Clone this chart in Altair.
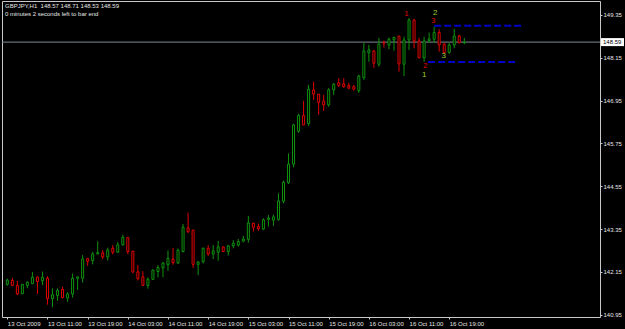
import altair as alt
import pandas as pd

# ---------------- data ----------------
symbol_line = "GBPJPY,H1\u00a0 148.57 148.71 148.53 148.59"
timer_line = "0 minutes 2 seconds left to bar end"

opens = [141.80,141.91,141.77,141.54,141.77,141.82,142.00,141.90,141.97,141.40,
         141.49,141.66,141.42,141.53,141.97,141.97,142.52,142.47,142.65,142.68,
         142.57,142.81,142.70,142.91,143.11,142.73,142.15,142.01,141.77,141.94,
         142.16,142.26,142.35,142.51,142.40,142.72,143.38,143.32,142.36,142.43,
         142.81,142.65,142.70,142.85,142.72,142.88,142.90,143.01,143.06,143.51,
         143.42,143.35,143.62,143.60,143.62,144.13,144.65,145.17,146.09,146.53,
         146.31,147.25,147.13,146.94,146.83,147.25,147.45,147.42,147.37,147.34,
         147.23,147.59,148.29,148.34,147.97,148.58,148.51,148.65,148.76,147.97,
         148.65,149.21,148.62,148.15,148.63,148.67,148.86,148.53,148.30,148.51,
         148.76,148.57]
highs = [141.96,141.98,141.90,141.81,141.88,142.15,142.02,142.16,142.03,141.69,
         141.69,141.73,141.58,142.10,142.02,142.62,142.54,142.71,143.01,142.76,
         142.83,142.90,142.99,143.19,143.13,142.74,142.34,142.17,142.00,142.22,
         142.34,142.42,142.75,142.82,142.80,143.49,143.81,143.32,142.44,142.83,
         142.90,142.90,143.02,142.86,142.90,143.04,143.07,143.16,143.72,143.53,
         143.50,143.65,143.74,143.75,144.35,144.71,145.47,146.30,146.58,146.94,
         147.39,147.48,147.13,147.11,147.30,147.44,147.58,147.58,147.45,147.39,
         147.67,148.57,148.51,148.37,148.71,148.63,148.72,148.74,148.76,148.74,
         149.26,149.24,148.71,148.74,148.86,149.02,148.95,148.57,148.56,148.96,
         148.79,148.71]
lows = [141.76,141.76,141.50,141.53,141.69,141.81,141.53,141.78,141.23,141.16,
        141.34,141.41,141.31,141.43,141.64,141.85,142.32,142.36,142.64,142.51,
        142.47,142.64,142.68,142.88,142.65,142.11,141.91,141.76,141.68,141.92,
        141.99,142.00,142.18,142.35,142.37,142.70,143.25,142.26,142.06,142.39,
        142.60,142.51,142.46,142.71,142.61,142.81,142.86,142.98,142.97,143.28,
        143.30,143.32,143.42,143.44,143.58,144.07,144.61,145.08,146.05,146.26,
        146.24,146.97,146.55,146.66,146.78,147.11,147.34,147.31,147.27,147.23,
        147.17,147.53,148.04,147.87,147.90,148.44,148.39,148.35,147.76,147.64,
        148.37,148.42,148.14,148.04,148.57,148.57,148.32,148.26,148.26,148.42,
        148.56,148.53]
closes = [141.92,141.77,141.53,141.80,141.86,142.00,141.88,142.00,141.40,141.51,
          141.63,141.43,141.53,141.97,142.01,142.51,142.45,142.65,142.69,142.57,
          142.76,142.70,142.91,143.12,142.72,142.15,141.96,141.77,141.94,142.20,
          142.27,142.40,142.53,142.41,142.76,143.40,143.27,142.36,142.43,142.81,
          142.65,142.74,142.85,142.72,142.88,142.95,143.00,143.07,143.52,143.40,
          143.36,143.61,143.66,143.69,144.14,144.66,145.17,146.27,146.53,146.27,
          147.27,147.13,146.90,146.83,147.25,147.41,147.37,147.34,147.30,147.27,
          147.64,148.34,148.37,148.00,148.53,148.56,148.67,148.72,147.98,148.65,
          149.21,148.62,148.15,148.62,148.68,148.86,148.51,148.29,148.51,148.76,
          148.57,148.59]

tick_bars = [0, 8, 16, 24, 32, 40, 48, 56, 64, 72, 80, 88]
tick_labels = ["13 Oct 2009", "13 Oct 11:00", "13 Oct 19:00", "14 Oct 03:00",
               "14 Oct 11:00", "14 Oct 19:00", "15 Oct 03:00", "15 Oct 11:00",
               "15 Oct 19:00", "16 Oct 03:00", "16 Oct 11:00", "16 Oct 19:00"]
price_ticks = [140.95, 141.55, 142.15, 142.75, 143.35, 143.95, 144.55, 145.15,
               145.75, 146.35, 146.95, 147.55, 148.15, 148.75, 149.35]
current_price = 148.59

level_prices = [149.05, 148.03]
level_start = [85.0, 83.8]
level_end = [102.6, 101.2]

marker_text = ["1", "2", "3", "2", "1", "3"]
marker_bar = [79.5, 85.2, 84.8, 83.2, 83.0, 86.9]
marker_price = [149.38, 149.41, 149.18, 147.93, 147.68, 148.20]
marker_kind = ["top", "bottom", "top", "top", "bottom", "bottom"]

# ---------------- styling ----------------
FONT = "Liberation Sans"
GREEN = "#0e920e"
RED = "#e00000"
TEXT = "#e6e6e6"

bars = pd.DataFrame({
    "i": list(range(len(opens))),
    "open": opens, "high": highs, "low": lows, "close": closes,
})
bars["dir"] = ["up" if c >= o else "down" for o, c in zip(opens, closes)]

levels = pd.DataFrame({"p": level_prices, "s": level_start, "e": level_end})
markers = pd.DataFrame({"t": marker_text, "i": marker_bar, "p": marker_price, "k": marker_kind})
cur = pd.DataFrame({"p": [current_price], "lab": [f"{current_price:.2f}"]})
info = pd.DataFrame({"t": [symbol_line]})
info2 = pd.DataFrame({"t": [timer_line]})

xscale = alt.Scale(domain=[-0.06, 117.03], nice=False, zero=False)
yscale = alt.Scale(domain=[140.885, 149.742], nice=False, zero=False)
dir_scale = alt.Scale(domain=["up", "down"], range=[GREEN, RED])

labels_js = "[" + ",".join(f"'{t}'" for t in tick_labels) + "]"
bars_js = "[" + ",".join(str(b) for b in tick_bars) + "]"

xaxis = alt.Axis(values=tick_bars, labelExpr=f"{labels_js}[indexof({bars_js}, datum.value)]",
                 title=None, domain=False, grid=False, tickSize=2, tickColor="#c8c8c8",
                 labelAlign="left", labelBaseline="top", labelPadding=1,
                 labelColor=TEXT, labelFont=FONT, labelFontSize=6, labelOverlap=False,
                 labelFlush=False)
yaxis = alt.Axis(values=price_ticks, format=".2f", orient="right", title=None,
                 domain=False, grid=False, tickSize=2, tickColor="#c8c8c8",
                 labelPadding=1, labelColor=TEXT, labelFont=FONT, labelFontSize=6,
                 labelOverlap=False, labelFlush=False)

base = alt.Chart(bars)

wicks = base.mark_rule(strokeWidth=1).encode(
    x=alt.X("i:Q", scale=xscale, axis=xaxis),
    y=alt.Y("low:Q", scale=yscale, axis=yaxis),
    y2="high:Q",
    color=alt.Color("dir:N", scale=dir_scale, legend=None),
)

bodies = base.mark_bar(size=2, fill="black", strokeWidth=1).encode(
    x=alt.X("i:Q", scale=xscale),
    y=alt.Y("open:Q", scale=yscale),
    y2="close:Q",
    stroke=alt.Stroke("dir:N", scale=dir_scale, legend=None),
)

price_line = alt.Chart(cur).mark_rule(color="#7f8a96", strokeWidth=1).encode(
    y=alt.Y("p:Q", scale=yscale)
)

level_lines = alt.Chart(levels).mark_rule(color="#0000c8", strokeWidth=2, strokeDash=[7, 3]).encode(
    x=alt.X("s:Q", scale=xscale), x2="e:Q", y=alt.Y("p:Q", scale=yscale)
)

marker_marks = alt.Chart(markers).mark_text(font=FONT, fontSize=8, baseline="middle", align="center").encode(
    x=alt.X("i:Q", scale=xscale), y=alt.Y("p:Q", scale=yscale), text="t:N",
    fill=alt.Fill("k:N", scale=alt.Scale(domain=["top", "bottom"], range=[RED, "#9acd32"]), legend=None),
)

price_box = alt.Chart(cur).mark_rect(fill="white", yOffset=-4, y2Offset=4).encode(
    x=alt.value(599), x2=alt.value(622),
    y=alt.Y("p:Q", scale=yscale), y2="p:Q",
)
price_text = alt.Chart(cur).mark_text(font=FONT, fontSize=6, color="black", align="left", baseline="middle").encode(
    x=alt.value(601), y=alt.Y("p:Q", scale=yscale), text="lab:N"
)

info_text = alt.Chart(info).mark_text(font=FONT, fontSize=6, color=TEXT, align="left", baseline="middle").encode(
    x=alt.value(3), y=alt.value(5), text="t:N"
)
info_text2 = alt.Chart(info2).mark_text(font=FONT, fontSize=6, color=TEXT, align="left", baseline="middle").encode(
    x=alt.value(3), y=alt.value(13), text="t:N"
)

chart = alt.layer(
    price_line, wicks, bodies, level_lines, marker_marks, price_box, price_text, info_text, info_text2
).properties(
    width=598, height=316,
    padding={"left": 2, "top": 1, "right": 25, "bottom": 12},
    autosize="none",
    background="black",
).configure_view(
    stroke="#c8c8c8", strokeWidth=1, fill="black"
)

chart.save("out.html", embed_options={"renderer": "svg", "actions": False})
